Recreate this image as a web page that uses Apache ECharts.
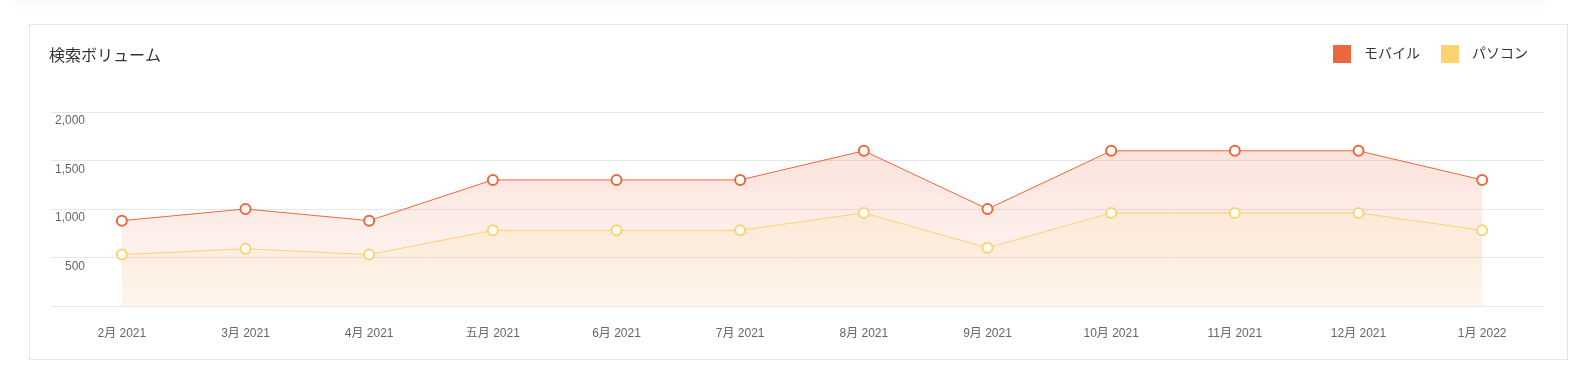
<!DOCTYPE html>
<html>
<head>
<meta charset="utf-8">
<script src="https://cdn.jsdelivr.net/npm/echarts@6/dist/echarts.min.js"></script>
<style>
  html, body { margin: 0; padding: 0; background: #fff; width: 1595px; height: 379px; overflow: hidden; }
  #shadow { position: absolute; left: 10px; top: -30px; width: 1540px; height: 30px; box-shadow: 0 4px 14px rgba(0,0,0,0.035); border-radius: 20px; background: #fff; }
  #card { position: absolute; left: 29px; top: 24px; width: 1537px; height: 334px; border: 1px solid #e4e4e9; background: #fff; }
  #chart { position: absolute; left: 0; top: 0; width: 1595px; height: 379px; }
</style>
</head>
<body>
<div id="shadow"></div>
<div id="card"></div>
<div id="chart"></div>
<script>
const categories = ['2月 2021', '3月 2021', '4月 2021', '五月 2021', '6月 2021', '7月 2021', '8月 2021', '9月 2021', '10月 2021', '11月 2021', '12月 2021', '1月 2022'];
const mobile = [880, 1000, 880, 1300, 1300, 1300, 1600, 1000, 1600, 1600, 1600, 1300];
const desktop = [530, 590, 530, 780, 780, 780, 960, 600, 960, 960, 960, 780];
const seriesNames = ['モバイル', 'パソコン'];
const titleText = '検索ボリューム';

const FONT = "'Liberation Sans', Arial, 'Noto Sans CJK JP', sans-serif";
const ORANGE = '#ec673b';
const YELLOW = '#fdd36f';

const chart = echarts.init(document.getElementById('chart'), null, { renderer: 'canvas' });
chart.setOption({
  backgroundColor: 'transparent',
  animation: false,
  textStyle: { fontFamily: FONT },
  title: {
    text: titleText,
    left: 44, top: 44,
    textStyle: { fontSize: 16, fontWeight: 'normal', color: '#333', fontFamily: FONT }
  },
  legend: {
    right: 62, top: 40,
    itemWidth: 18, itemHeight: 18, itemGap: 21,
    icon: 'rect',
    data: [
      { name: seriesNames[0], itemStyle: { color: ORANGE, borderWidth: 0 } },
      { name: seriesNames[1], itemStyle: { color: YELLOW, borderWidth: 0 } }
    ],
    textStyle: { fontSize: 14, color: '#333', padding: [0, 0, 0, 8], fontFamily: FONT }
  },
  grid: [
    { left: 51, right: 51, top: 112, bottom: 73 },
    { left: 60, right: 51, top: 112, bottom: 73 }
  ],
  xAxis: [
    { type: 'category', gridIndex: 0, data: categories, show: false },
    {
      type: 'category', gridIndex: 1, data: categories, boundaryGap: true,
      axisLine: { show: false }, axisTick: { show: false },
      axisLabel: { color: '#666', fontSize: 12, margin: 22, fontFamily: FONT }
    }
  ],
  yAxis: [
    {
      type: 'value', gridIndex: 0, min: 0, max: 2000, interval: 500,
      axisLine: { show: false }, axisTick: { show: false },
      splitLine: { lineStyle: { color: '#e6e6eb', width: 1 } },
      axisLabel: {
        inside: true, align: 'right', verticalAlign: 'top', margin: 34,
        padding: [3, 0, 0, 0],
        showMinLabel: false,
        color: '#666', fontSize: 12, fontFamily: FONT,
        formatter: v => v.toLocaleString('en-US')
      }
    },
    {
      type: 'value', gridIndex: 1, min: 0, max: 2000, interval: 500, show: false,
      splitLine: { show: false }
    }
  ],
  series: [
    {
      name: seriesNames[0], type: 'line', xAxisIndex: 1, yAxisIndex: 1,
      data: mobile, color: ORANGE,
      symbol: 'circle', symbolSize: 10, showAllSymbol: true,
      itemStyle: { color: '#fff', borderColor: ORANGE, borderWidth: 2 },
      lineStyle: { color: ORANGE, width: 1 },
      areaStyle: {
        color: new echarts.graphic.LinearGradient(0, 0, 0, 1, [
          { offset: 0, color: 'rgba(236,103,59,0.26)' },
          { offset: 1, color: 'rgba(236,103,59,0.06)' }
        ])
      },
      z: 2
    },
    {
      name: seriesNames[1], type: 'line', xAxisIndex: 1, yAxisIndex: 1,
      data: desktop, color: YELLOW,
      symbol: 'circle', symbolSize: 10, showAllSymbol: true,
      itemStyle: { color: '#fff', borderColor: YELLOW, borderWidth: 2 },
      lineStyle: { color: YELLOW, width: 1 },
      areaStyle: {
        color: new echarts.graphic.LinearGradient(0, 0, 0, 1, [
          { offset: 0, color: 'rgba(253,211,111,0.18)' },
          { offset: 1, color: 'rgba(253,211,111,0.12)' }
        ])
      },
      z: 3
    }
  ]
});
</script>
</body>
</html>
